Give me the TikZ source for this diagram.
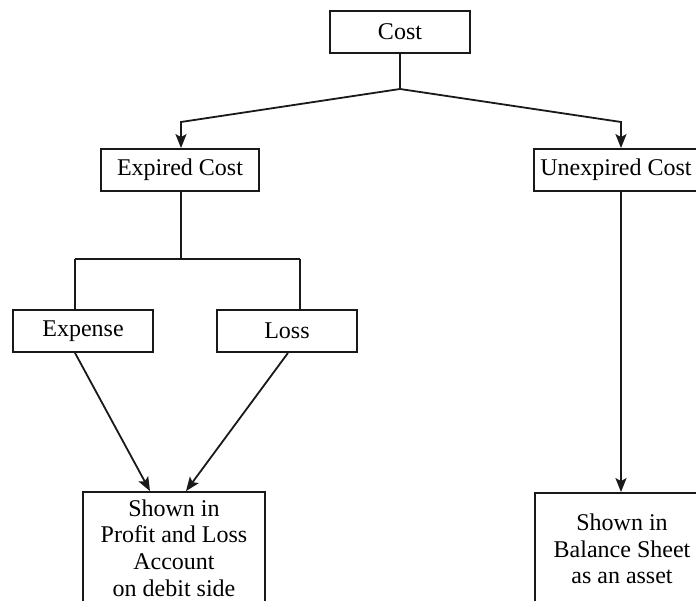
\documentclass[tikz,border=0pt]{standalone}
\usepackage{fontspec}
\setmainfont{Liberation Serif}
\usepackage{tikz}
\usetikzlibrary{arrows.meta,positioning}
\tikzstyle{arrow} = [line width=1.8pt,-{Stealth[length=14pt,width=11pt,inset=3pt]},color=black!90]
\tikzstyle{link} = [line width=1.8pt,color=black!90]
\tikzstyle{costbox} = [rectangle, draw=black!90, line width=1.8pt, text centered, minimum height=42pt, inner sep=0pt, font=\fontsize{24}{26.6}\selectfont]
\tikzstyle{shownbox} = [costbox, align=center, minimum height=112pt]

\begin{document}
\begin{tikzpicture}[x=1pt,y=-1pt]
\useasboundingbox (0,0) rectangle (696,601);
\clip (0,0) rectangle (696,601);

% Boxes
\node[costbox, minimum width=140pt] (cost) at (400,32) {Cost};
\node[costbox, minimum width=158pt] (expired) at (180,170) {Expired Cost};
\node[costbox, minimum width=164pt] (unexpired) at (616,170) {Unexpired Cost};
\node[costbox, minimum width=140pt] (expense) at (83,331) {Expense};
\node[costbox, minimum width=140pt] (loss) at (287,331) {Loss};
\node[shownbox, minimum width=182pt] (pl) at (174,548) {Shown in\\Profit and Loss\\Account\\on debit side};
\node[shownbox, minimum width=174pt] (bs) at (622,549) {Shown in\\Balance Sheet\\as an asset};

% Cost splits
\coordinate (fork) at (400,89);
\coordinate (expin) at (181,122);
\coordinate (unexpin) at (621,122);
\draw[link] (cost.south) -- (fork);
\draw[arrow] (fork) -- (expin) -- (expin |- expired.north);
\draw[arrow] (fork) -- (unexpin) -- (unexpin |- unexpired.north);

% Expired cost splits
\coordinate (split) at (181,259);
\coordinate (splitl) at (75,259);
\coordinate (splitr) at (300,259);
\draw[link] (split |- expired.south) -- (split);
\draw[link] (splitl) -- (splitr);
\draw[link] (splitl) -- (splitl |- expense.north);
\draw[link] (splitr) -- (splitr |- loss.north);

% To the accounts
\coordinate (plin) at (168,0);
\draw[arrow] (splitl |- expense.south) -- ([xshift=-18pt]plin |- pl.north);
\draw[arrow] ([xshift=213pt]splitl |- loss.south) -- ([xshift=18pt]plin |- pl.north);
\draw[arrow] (unexpin |- unexpired.south) -- (unexpin |- bs.north);
\end{tikzpicture}
\end{document}
